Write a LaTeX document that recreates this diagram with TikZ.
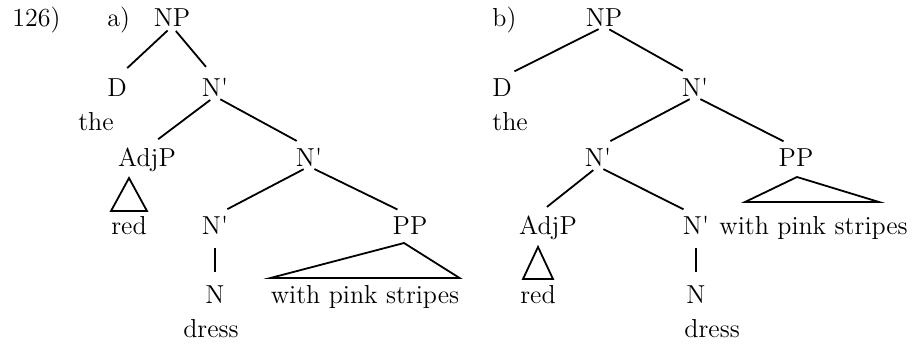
\documentclass[tikz,border=0pt]{standalone}
\usepackage{fontspec}
\usepackage{tikz}
\usetikzlibrary{calc}
\newcommand{\Nbar}{N\textquotesingle}
\tikzset{
    % Base label style
    basenode/.style={
        inner sep=0pt,
        anchor=base,
        text height=9pt,
        text depth=0pt,
        font=\fontsize{13}{16}\selectfont
    },
    % Category label
    catnode/.style={
        basenode
    },
    % Word label
    wordnode/.style={
        basenode
    },
    % Example number
    numnode/.style={
        basenode,
        anchor=base west
    },
    % Branch line
    branch/.style={
        line width=0.9pt,
        shorten <=3pt,
        shorten >=7pt
    },
    % Unary branch
    unarybranch/.style={
        branch,
        shorten <=7pt,
        shorten >=6.5pt
    },
    % Roof triangle
    roof/.style={
        line width=0.9pt,
        line join=miter
    }
}

\begin{document}
\begin{tikzpicture}[x=0.5pt, y=-0.5pt]
    \useasboundingbox (0,0) rectangle (921,344);

    % tree a
    \node[numnode] (ex) at (12,26) {126)};
    \node[numnode] (labela) at (107,26) {a)};
    \node[catnode] (aNP) at (172,26) {NP};
    \node[catnode] (aD) at (117,96) {D};
    \node[catnode] (aN1) at (215,96) {\Nbar};
    \node[wordnode] (athe) at (96,130) {the};
    \node[catnode] (aAdjP) at (147,166) {AdjP};
    \node[catnode] (aN2) at (309,166) {\Nbar};
    \node[wordnode] (ared) at (129,234) {red};
    \node[catnode] (aN3) at (215,234) {\Nbar};
    \node[catnode] (aPP) at (410,234) {PP};
    \node[catnode] (aN) at (215,303) {N};
    \node[wordnode] (awps) at (365,303) {with pink stripes};
    \node[wordnode] (adress) at (211,337) {dress};

    \draw[branch] (aNP.south) -- (aD.north);
    \draw[branch] (aNP.south) -- (aN1.north);
    \draw[branch] (aN1.south) -- (aAdjP.north);
    \draw[branch] (aN1.south) -- (aN2.north);
    \draw[branch] (aN2.south) -- (aN3.north);
    \draw[branch] (aN2.south) -- (aPP.north);
    \draw[unarybranch] (aN3.south) -- (aN.north);

    \draw[roof] ($(ared.base)+(0,-56)$) -- ($(ared.base)+(-18,-23)$) -- ($(ared.base)+(18,-23)$) -- cycle;
    \draw[roof] ($(aPP.base)+(-6,9)$) -- ($(awps.base west)+(0,-25)$) -- ($(awps.base east)+(0,-25)$) -- cycle;

    % tree b
    \node[numnode] (labelb) at (492,26) {b)};
    \node[catnode] (bNP) at (604,26) {NP};
    \node[catnode] (bD) at (502,96) {D};
    \node[catnode] (bN1) at (695,96) {\Nbar};
    \node[wordnode, anchor=base west] (bthe) at (492,130) {the};
    \node[catnode] (bN2) at (598,166) {\Nbar};
    \node[catnode] (bPP) at (796,166) {PP};
    \node[catnode] (bAdjP) at (548,234) {AdjP};
    \node[catnode] (bN3) at (696,234) {\Nbar};
    \node[wordnode, anchor=base west] (bwps) at (719,234) {with pink stripes};
    \node[wordnode] (bred) at (538,303) {red};
    \node[catnode] (bN) at (696,303) {N};
    \node[wordnode, anchor=base west] (bdress) at (684,337) {dress};

    \draw[branch] (bNP.south) -- (bD.north);
    \draw[branch] (bNP.south) -- (bN1.north);
    \draw[branch] (bN1.south) -- (bN2.north);
    \draw[branch] (bN1.south) -- (bPP.north);
    \draw[branch] (bN2.south) -- ([xshift=-6pt]bAdjP.north);
    \draw[branch] (bN2.south) -- (bN3.north);
    \draw[unarybranch] (bN3.south) -- (bN.north);

    \draw[roof] ($(bred.base)+(0,-56)$) -- ($(bred.base)+(-15,-24)$) -- ($(bred.base)+(15,-24)$) -- cycle;
    \draw[roof] ($(bPP.base)+(1,11)$) -- ($(bPP.base)+(-51,36)$) -- ($(bPP.base)+(83,36)$) -- cycle;
\end{tikzpicture}
\end{document}
